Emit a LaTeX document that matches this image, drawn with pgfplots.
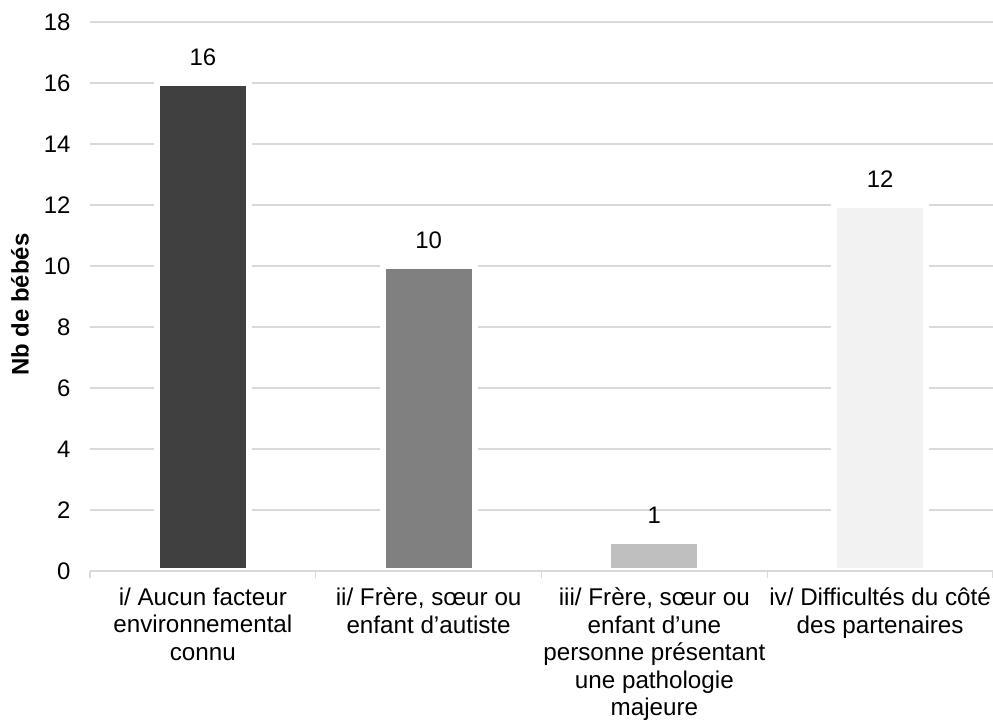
\documentclass[border=0pt]{standalone}
\usepackage{pgfplots}
\pgfplotsset{compat=1.18}
\usepackage{fontspec}
\setmainfont{Liberation Sans}
\definecolor{gridc}{HTML}{D9D9D9}
\definecolor{barA}{HTML}{404040}
\definecolor{barB}{HTML}{808080}
\definecolor{barC}{HTML}{BFBFBF}
\definecolor{barD}{HTML}{F2F2F2}
\begin{document}
\begin{tikzpicture}[font=\fontsize{24}{27.6}\selectfont]
\path[use as bounding box] (-90bp,-151bp) rectangle (903bp,571bp);
\begin{axis}[
  scale only axis, width=903bp, height=549bp,
  xmin=-0.5, xmax=3.5, ymin=0, ymax=18,
  ybar, bar width=92bp, bar shift=0pt,
  xtick={0,1,2,3},
  xticklabels={{i/ Aucun facteur\\environnemental\\connu},
    {ii/ Frère, sœur ou\\enfant d’autiste},
    {iii/ Frère, sœur ou\\enfant d’une\\personne présentant\\une pathologie\\majeure},
    {iv/ Difficultés du côté\\des partenaires}},
  xticklabel style={align=center, anchor=north, yshift=-9bp,
    font=\fontsize{24.3}{27.6}\selectfont},
  ytick={0,2,...,18},
  yticklabel style={xshift=-16bp},
  /pgf/number format/assume math mode=true,
  xtick style={draw=none}, ytick style={draw=none},
  extra x ticks={-0.5,0.5,1.5,2.5,3.5}, extra x tick labels={},
  extra x tick style={xtick style={draw=gridc, line width=1.3bp}, major tick length=7bp, tick align=outside},
  axis x line*=bottom, axis y line*=left,
  axis line style={draw=none},
  ymajorgrids, major grid style={draw=gridc, line width=1.3bp},
  ylabel={\bfseries Nb de bébés},
  ylabel style={at={(axis description cs:-0.0775,0.485)}, anchor=center, rotate=0},
  nodes near coords,
  every node near coord/.append style={anchor=south, yshift=11bp, black},
  every axis plot/.append style={draw=white, line width=6bp},
]
\addplot[fill=barA] coordinates {(0,16)};
\addplot[fill=barB] coordinates {(1,10)};
\addplot[fill=barC] coordinates {(2,1)};
\addplot[fill=barD] coordinates {(3,12)};
\draw[gridc, line width=1.3bp] (rel axis cs:0,0) -- (rel axis cs:1,0);
\end{axis}
\end{tikzpicture}
\end{document}
